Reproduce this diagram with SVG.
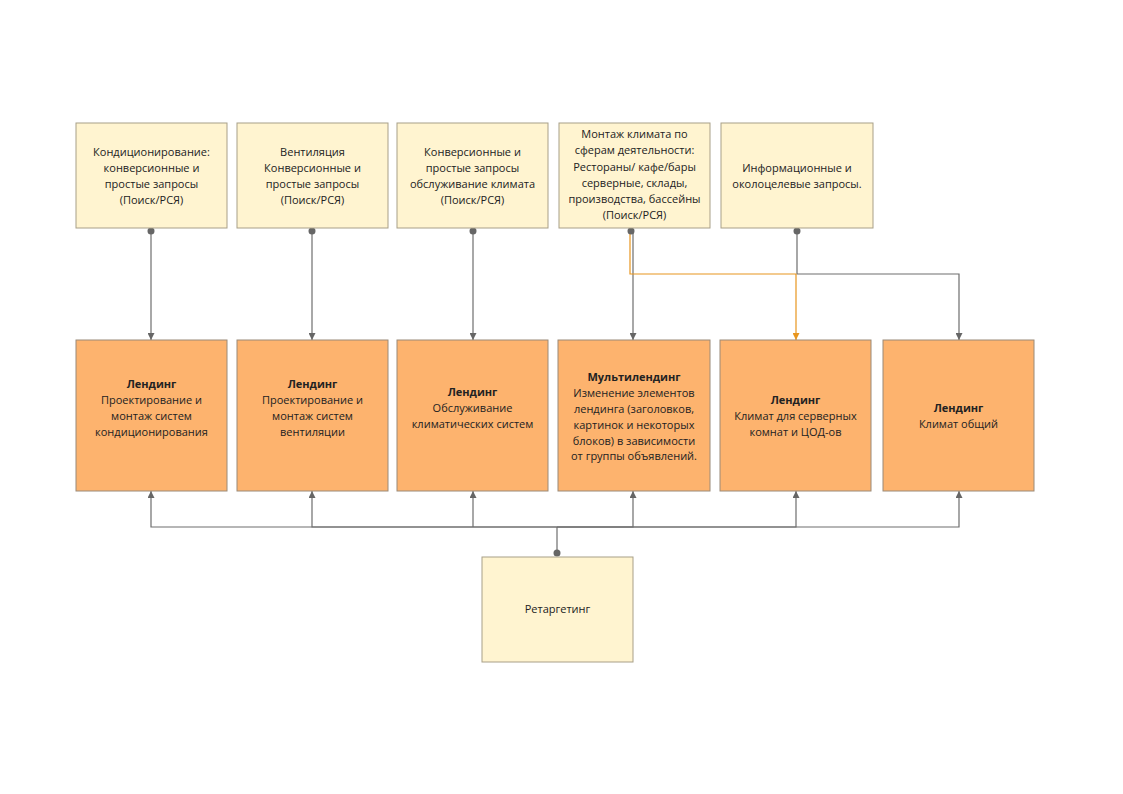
<svg xmlns="http://www.w3.org/2000/svg" width="1123" height="794" viewBox="0 0 1123 794">
<defs>
<style>
.top{fill:#FFF4D0;stroke:#A89F88;stroke-width:1}
.mid{fill:#FDB36E;stroke:#9A8A78;stroke-width:1}
text{font-family:"Open Sans","Noto Sans","Liberation Sans",sans-serif;font-size:11px;fill:#222;text-anchor:middle}
.b{font-weight:bold}
.c{fill:none;stroke:#6E6E6E;stroke-width:1.2}
.o{fill:none;stroke:#E8961E;stroke-width:1.2}
</style>
<marker id="ag" viewBox="0 0 10 10" refX="10" refY="5" markerWidth="7" markerHeight="7" orient="auto" markerUnits="userSpaceOnUse"><path d="M0,0 L10,5 L0,10 z" fill="#666"/></marker>
<marker id="ao" viewBox="0 0 10 10" refX="10" refY="5" markerWidth="7" markerHeight="7" orient="auto" markerUnits="userSpaceOnUse"><path d="M0,0 L10,5 L0,10 z" fill="#E8961E"/></marker>
</defs>
<rect width="1123" height="794" fill="#fff"/>
<g id="connectors">
<path class="c" d="M151,231 V340" marker-end="url(#ag)"/>
<path class="c" d="M312,231 V340" marker-end="url(#ag)"/>
<path class="c" d="M473,231 V340" marker-end="url(#ag)"/>
<path class="c" d="M633,231 V340" marker-end="url(#ag)"/>
<path class="c" d="M797,231 V274 H959 V340" marker-end="url(#ag)"/>
<path class="o" d="M630,231 V274 H796 V340" marker-end="url(#ao)"/>
<path class="c" d="M557,553 V527"/>
<path class="c" d="M557,527 H151 V491" marker-end="url(#ag)"/>
<path class="c" d="M557,527 H312 V491" marker-end="url(#ag)"/>
<path class="c" d="M473,527 V491" marker-end="url(#ag)"/>
<path class="c" d="M557,527 H633 V491" marker-end="url(#ag)"/>
<path class="c" d="M557,527 H796 V491" marker-end="url(#ag)"/>
<path class="c" d="M557,527 H959 V491" marker-end="url(#ag)"/>
<circle cx="151" cy="231" r="3.5" fill="#666"/>
<circle cx="312" cy="231" r="3.5" fill="#666"/>
<circle cx="473" cy="231" r="3.5" fill="#666"/>
<circle cx="631" cy="231" r="3.5" fill="#666"/>
<circle cx="797" cy="231" r="3.5" fill="#666"/>
<circle cx="557" cy="553" r="3.5" fill="#666"/>
</g>
<g id="q1"><rect class="top" x="76" y="123" width="151" height="105"/>
<text x="151.5" y="156">Кондиционирование:</text><text x="151.5" y="172">конверсионные и</text><text x="151.5" y="188">простые запросы</text><text x="151.5" y="204">(Поиск/РСЯ)</text></g>
<g id="q2"><rect class="top" x="237" y="123" width="151" height="105"/>
<text x="312.5" y="156">Вентиляция</text><text x="312.5" y="172">Конверсионные и</text><text x="312.5" y="188">простые запросы</text><text x="312.5" y="204">(Поиск/РСЯ)</text></g>
<g id="q3"><rect class="top" x="397" y="123" width="151" height="105"/>
<text x="472.5" y="156">Конверсионные и</text><text x="472.5" y="172">простые запросы</text><text x="472.5" y="188">обслуживание климата</text><text x="472.5" y="204">(Поиск/РСЯ)</text></g>
<g id="q4"><rect class="top" x="559" y="123" width="151" height="105"/>
<text x="634.5" y="138">Монтаж климата по</text><text x="634.5" y="154">сферам деятельности:</text><text x="634.5" y="171">Рестораны/ кафе/бары</text><text x="634.5" y="187">серверные, склады,</text><text x="634.5" y="203">производства, бассейны</text><text x="634.5" y="219">(Поиск/РСЯ)</text></g>
<g id="q5"><rect class="top" x="721" y="123" width="152" height="105"/>
<text x="797" y="172">Информационные и</text><text x="797" y="188">околоцелевые запросы.</text></g>
<g id="l1"><rect class="mid" x="76" y="340" width="151" height="151"/>
<text class="b" x="151.5" y="388">Лендинг</text><text x="151.5" y="404">Проектирование и</text><text x="151.5" y="420">монтаж систем</text><text x="151.5" y="436">кондиционирования</text></g>
<g id="l2"><rect class="mid" x="237" y="340" width="151" height="151"/>
<text class="b" x="312.5" y="388">Лендинг</text><text x="312.5" y="404">Проектирование и</text><text x="312.5" y="420">монтаж систем</text><text x="312.5" y="436">вентиляции</text></g>
<g id="l3"><rect class="mid" x="397" y="340" width="151" height="151"/>
<text class="b" x="472.5" y="396">Лендинг</text><text x="472.5" y="412">Обслуживание</text><text x="472.5" y="428">климатических систем</text></g>
<g id="l4"><rect class="mid" x="558" y="340" width="152" height="151"/>
<text class="b" x="634" y="381">Мультилендинг</text><text x="634" y="397">Изменение элементов</text><text x="634" y="413">лендинга (заголовков,</text><text x="634" y="429">картинок и некоторых</text><text x="634" y="445">блоков) в зависимости</text><text x="634" y="460">от группы объявлений.</text></g>
<g id="l5"><rect class="mid" x="720" y="340" width="151" height="151"/>
<text class="b" x="795.5" y="404">Лендинг</text><text x="795.5" y="420">Климат для серверных</text><text x="795.5" y="436">комнат и ЦОД-ов</text></g>
<g id="l6"><rect class="mid" x="883" y="340" width="151" height="151"/>
<text class="b" x="958.5" y="412">Лендинг</text><text x="958.5" y="428">Климат общий</text></g>
<g id="retarget"><rect class="top" x="482" y="557" width="151" height="105"/>
<text x="557.5" y="613">Ретаргетинг</text></g>
</svg>
